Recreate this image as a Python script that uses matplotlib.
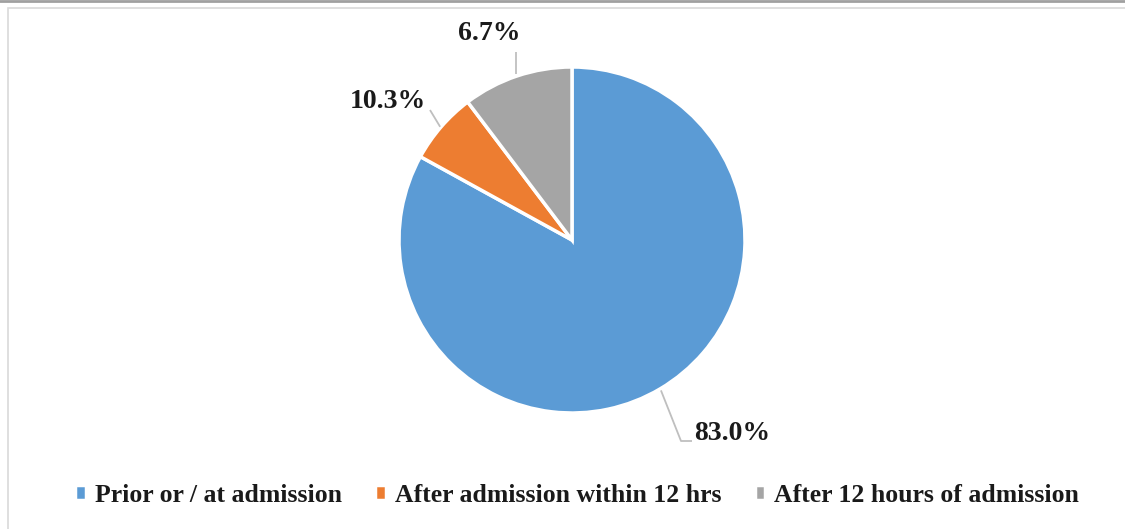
import matplotlib
matplotlib.use("Agg")
import matplotlib.pyplot as plt
from matplotlib.patches import Rectangle
import numpy as np

categories = ["Prior or / at admission", "After admission within 12 hrs", "After 12 hours of admission"]
values = [83.0, 6.7, 10.3]
label_texts = ["83.0%", "10.3%", "6.7%"]
colors = ["#5B9BD5", "#ED7D31", "#A5A5A5"]

W, H = 1125, 529
fig = plt.figure(figsize=(W / 100, H / 100), dpi=100)
fig.patch.set_facecolor("white")
ax = fig.add_axes([0, 0, 1, 1])

cx, cy, R = 572, H - 240, 173
wedges, _ = ax.pie(values, colors=colors, startangle=90, counterclock=False,
                   center=(cx, cy), radius=R, frame=True,
                   wedgeprops=dict(edgecolor="white", linewidth=2.5))
ax.set_xlim(0, W)
ax.set_ylim(0, H)
ax.set_aspect("equal")
ax.axis("off")

# frame
ax.add_patch(Rectangle((8, -5), W, H - 8 + 5, fill=False, edgecolor="#D9D9D9", lw=1.2))
ax.plot([0, W], [H - 0.8, H - 0.8], color="#A0A0A0", lw=2)

font = dict(family="Liberation Serif", weight="bold", size=20, color="#1a1a1a")
lc = dict(color="#BFBFBF", lw=1.3, solid_capstyle="butt")

def edge_pt(w, r=1.0):
    ang = np.deg2rad((w.theta1 + w.theta2) / 2)
    return cx + R * r * np.cos(ang), cy + R * r * np.sin(ang)

# 83.0% (blue)
x0, y0 = edge_pt(wedges[0], 1.01)
ax.plot([x0, 681, 692], [y0, H - 441, H - 441], **lc)
ax.text(694, H - 433, label_texts[0], ha="left", va="center", **font)

# 10.3% (orange)
x1, y1 = edge_pt(wedges[1], 1.0)
ax.plot([x1 - 1, 430], [y1, H - 110], **lc)
ax.text(388, H - 101, label_texts[1], ha="center", va="center", **font)

# 6.7% (gray)
x2, y2 = edge_pt(wedges[2], 1.01)
ax.plot([x2, x2], [y2, H - 52], **lc)
ax.text(489, H - 33, label_texts[2], ha="center", va="center", **font)

leg = ax.legend(wedges, categories, loc="center", bbox_to_anchor=(577 / W, 1 - 495 / H),
                bbox_transform=fig.transFigure, ncol=3, frameon=False,
                handlelength=0.42, handleheight=0.55, handletextpad=0.35, columnspacing=1.3,
                prop=dict(family="Liberation Serif", weight="bold", size=18.5))
for t in leg.get_texts():
    t.set_color("#1a1a1a")

fig.savefig("out.png", dpi=100, facecolor="white")
